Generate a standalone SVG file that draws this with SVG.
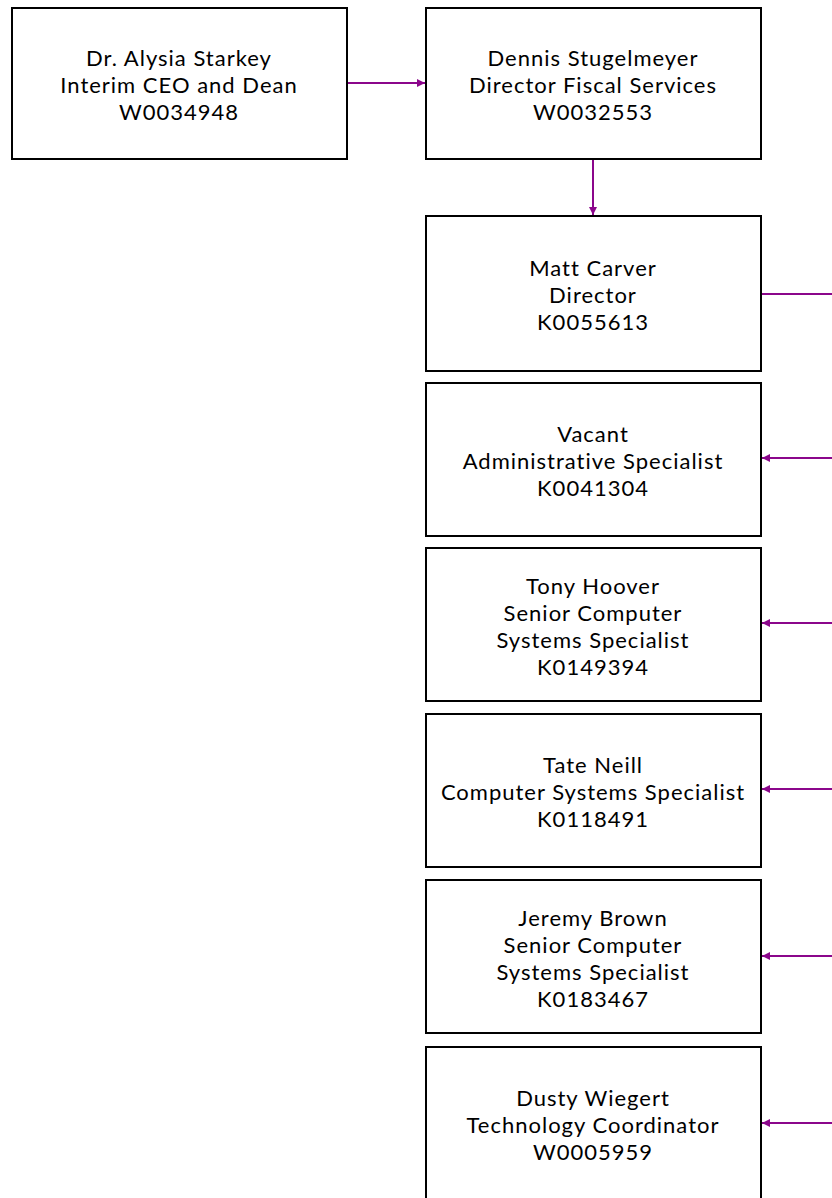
<svg xmlns="http://www.w3.org/2000/svg" width="832" height="1198" viewBox="0 0 832 1198">
<style>
.box{fill:#fff;stroke:#000;stroke-width:2}
.t{font-family:Lato,"Open Sans",sans-serif;font-size:22px;letter-spacing:1px;fill:#000;text-anchor:middle}
.c{stroke:#8B068B;stroke-width:2;fill:none}
</style>
<defs>
<marker id="ah" viewBox="0 0 10 10" refX="10" refY="5" markerWidth="8" markerHeight="8" markerUnits="userSpaceOnUse" orient="auto">
<path d="M0,0 L10,5 L0,10 z" fill="#8B068B"/>
</marker>
</defs>
<rect width="832" height="1198" fill="#fff"/>
<g id="connectors">
<line class="c" x1="348" y1="83" x2="425" y2="83" marker-end="url(#ah)"/>
<line class="c" x1="593" y1="160" x2="593" y2="215" marker-end="url(#ah)"/>
<line class="c" x1="762" y1="294" x2="832" y2="294"/>
<line class="c" x1="832" y1="458" x2="762" y2="458" marker-end="url(#ah)"/>
<line class="c" x1="832" y1="623" x2="762" y2="623" marker-end="url(#ah)"/>
<line class="c" x1="832" y1="789" x2="762" y2="789" marker-end="url(#ah)"/>
<line class="c" x1="832" y1="956" x2="762" y2="956" marker-end="url(#ah)"/>
<line class="c" x1="832" y1="1123" x2="762" y2="1123" marker-end="url(#ah)"/>
</g>
<g id="starkey">
<rect class="box" x="12" y="8" width="335" height="151"/>
<text class="t" x="179" y="66">Dr. Alysia Starkey</text>
<text class="t" x="179" y="93">Interim CEO and Dean</text>
<text class="t" x="179" y="120">W0034948</text>
</g>
<g id="stugelmeyer">
<rect class="box" x="426" y="8" width="335" height="151"/>
<text class="t" x="593" y="66">Dennis Stugelmeyer</text>
<text class="t" x="593" y="93">Director Fiscal Services</text>
<text class="t" x="593" y="120">W0032553</text>
</g>
<g id="carver">
<rect class="box" x="426" y="216" width="335" height="155"/>
<text class="t" x="593" y="276">Matt Carver</text>
<text class="t" x="593" y="303">Director</text>
<text class="t" x="593" y="330">K0055613</text>
</g>
<g id="vacant">
<rect class="box" x="426" y="383" width="335" height="153"/>
<text class="t" x="593" y="442">Vacant</text>
<text class="t" x="593" y="469">Administrative Specialist</text>
<text class="t" x="593" y="496">K0041304</text>
</g>
<g id="hoover">
<rect class="box" x="426" y="548" width="335" height="153"/>
<text class="t" x="593" y="594">Tony Hoover</text>
<text class="t" x="593" y="621">Senior Computer</text>
<text class="t" x="593" y="648">Systems Specialist</text>
<text class="t" x="593" y="675">K0149394</text>
</g>
<g id="neill">
<rect class="box" x="426" y="714" width="335" height="153"/>
<text class="t" x="593" y="773">Tate Neill</text>
<text class="t" x="593" y="800">Computer Systems Specialist</text>
<text class="t" x="593" y="827">K0118491</text>
</g>
<g id="brown">
<rect class="box" x="426" y="880" width="335" height="153"/>
<text class="t" x="593" y="926">Jeremy Brown</text>
<text class="t" x="593" y="953">Senior Computer</text>
<text class="t" x="593" y="980">Systems Specialist</text>
<text class="t" x="593" y="1007">K0183467</text>
</g>
<g id="wiegert">
<rect class="box" x="426" y="1047" width="335" height="153"/>
<text class="t" x="593" y="1106">Dusty Wiegert</text>
<text class="t" x="593" y="1133">Technology Coordinator</text>
<text class="t" x="593" y="1160">W0005959</text>
</g>
</svg>
